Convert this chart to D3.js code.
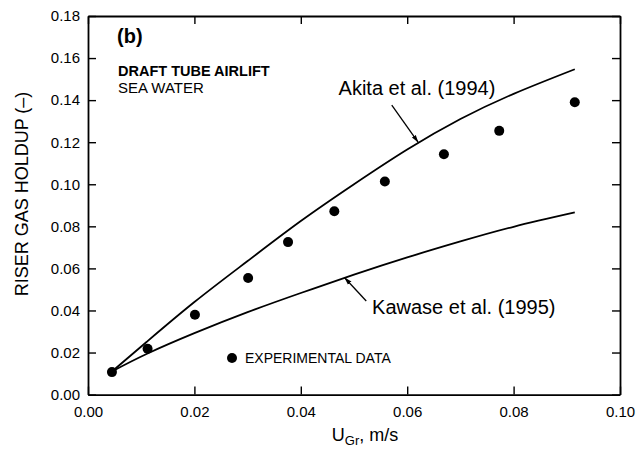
<!DOCTYPE html>
<html>
<head>
<meta charset="utf-8">
<script src="https://cdn.jsdelivr.net/npm/d3@7/dist/d3.min.js"></script>
<style>
  html, body { margin: 0; padding: 0; background: #fff; }
  text { font-family: Arial, "Liberation Sans", Helvetica, sans-serif; fill: #000; }
</style>
</head>
<body>
<svg id="chart" width="636" height="451"></svg>
<script>
// ---- data ----
const expX = [0.0045, 0.0112, 0.0201, 0.0301, 0.0376, 0.0463, 0.0558, 0.0669, 0.0773, 0.0915];
const expY = [0.0107, 0.0218, 0.0380, 0.0554, 0.0725, 0.0872, 0.1013, 0.1143, 0.1254, 0.1390];

const akitaX = [0.0045, 0.011, 0.020, 0.030, 0.040, 0.050, 0.060, 0.070, 0.080, 0.0915];
const akitaY = [0.0110, 0.025, 0.044, 0.0635, 0.0825, 0.1000, 0.1165, 0.1310, 0.1430, 0.1547];

const kawaseX = [0.0045, 0.011, 0.020, 0.030, 0.040, 0.050, 0.060, 0.070, 0.080, 0.0915];
const kawaseY = [0.0110, 0.0193, 0.0292, 0.0392, 0.0483, 0.0570, 0.0652, 0.0728, 0.0798, 0.0866];

const xTicks = [0.00, 0.02, 0.04, 0.06, 0.08, 0.10];
const yTicks = [0.00, 0.02, 0.04, 0.06, 0.08, 0.10, 0.12, 0.14, 0.16, 0.18];

// ---- layout ----
const svg = d3.select("#chart");
const L = 88, R = 620, T = 16, B = 394.6;
const x = d3.scaleLinear().domain([0, 0.10]).range([L, R]);
const y = d3.scaleLinear().domain([0, 0.18]).range([B, T]);
const fmt = d3.format(".2f");

// axes (ticks inward)
const tickLen = 8;
const axBottom = d3.axisBottom(x).tickValues(xTicks).tickFormat(fmt).tickSizeInner(-tickLen).tickSizeOuter(0).tickPadding(12);
const axLeft = d3.axisLeft(y).tickValues(yTicks).tickFormat(fmt).tickSizeInner(-tickLen).tickSizeOuter(0).tickPadding(8);
const axTop = d3.axisTop(x).tickValues(xTicks).tickFormat("").tickSizeInner(-tickLen).tickSizeOuter(0);
const axRight = d3.axisRight(y).tickValues(yTicks).tickFormat("").tickSizeInner(-tickLen).tickSizeOuter(0);

function styleAxis(g) {
  g.selectAll("path.domain").attr("stroke", "#000").attr("stroke-width", 1.8);
  g.selectAll(".tick line").attr("stroke", "#000").attr("stroke-width", 1.4);
  g.selectAll(".tick text").style("font-size", "15px").style("font-family", "Arial, 'Liberation Sans', sans-serif").attr("fill", "#000");
}
svg.append("g").attr("transform", `translate(0,${B})`).call(axBottom).call(styleAxis);
svg.append("g").attr("transform", `translate(${L},0)`).call(axLeft).call(styleAxis);
svg.append("g").attr("transform", `translate(0,${T})`).call(axTop).call(styleAxis);
svg.append("g").attr("transform", `translate(${R},0)`).call(axRight).call(styleAxis);

// curves
const line = d3.line().x(d => x(d[0])).y(d => y(d[1])).curve(d3.curveNatural);
svg.append("path").datum(d3.zip(akitaX, akitaY)).attr("d", line)
  .attr("fill", "none").attr("stroke", "#000").attr("stroke-width", 1.8);
svg.append("path").datum(d3.zip(kawaseX, kawaseY)).attr("d", line)
  .attr("fill", "none").attr("stroke", "#000").attr("stroke-width", 1.8);

// experimental points
svg.append("g").selectAll("circle").data(d3.zip(expX, expY)).join("circle")
  .attr("cx", d => x(d[0])).attr("cy", d => y(d[1])).attr("r", 5).attr("fill", "#000");

// arrow marker
svg.append("defs").append("marker")
  .attr("id", "arr").attr("viewBox", "0 0 10 10").attr("refX", 10).attr("refY", 5)
  .attr("markerWidth", 6).attr("markerHeight", 6).attr("orient", "auto")
  .append("path").attr("d", "M0,2 L10,5 L0,8 Z").attr("fill", "#000");

// annotations (data-space anchors)
svg.append("line")
  .attr("x1", x(0.0571)).attr("y1", y(0.1376)).attr("x2", x(0.0621)).attr("y2", y(0.1198))
  .attr("stroke", "#000").attr("stroke-width", 1.3).attr("marker-end", "url(#arr)");
svg.append("text").attr("x", x(0.0471)).attr("y", y(0.1426))
  .style("font-size", "20px").text("Akita et al. (1994)");

svg.append("line")
  .attr("x1", x(0.0523)).attr("y1", y(0.0445)).attr("x2", x(0.0482)).attr("y2", y(0.0557))
  .attr("stroke", "#000").attr("stroke-width", 1.3).attr("marker-end", "url(#arr)");
svg.append("text").attr("x", x(0.0534)).attr("y", y(0.0382))
  .style("font-size", "20px").text("Kawase et al. (1995)");

// panel labels
svg.append("text").attr("x", 117).attr("y", 43).style("font-size", "20px").style("font-weight", "bold").text("(b)");
svg.append("text").attr("x", 118).attr("y", 75.5).style("font-size", "14.5px").style("font-weight", "bold").text("DRAFT TUBE AIRLIFT");
svg.append("text").attr("x", 118).attr("y", 92.5).style("font-size", "15px").text("SEA WATER");

// legend
svg.append("circle").attr("cx", 232).attr("cy", 358).attr("r", 5).attr("fill", "#000");
svg.append("text").attr("x", 245).attr("y", 363).style("font-size", "14px").text("EXPERIMENTAL DATA");

// axis titles
const xt = svg.append("text").attr("x", 365).attr("y", 441).attr("text-anchor", "middle").style("font-size", "18px");
xt.append("tspan").text("U");
xt.append("tspan").attr("dy", 4).style("font-size", "13px").text("Gr");
xt.append("tspan").attr("dy", -4).text(", m/s");

svg.append("text").attr("transform", "translate(28,194) rotate(-90)").attr("text-anchor", "middle")
  .style("font-size", "18px").text("RISER GAS HOLDUP (\u2013)");
</script>
</body>
</html>
